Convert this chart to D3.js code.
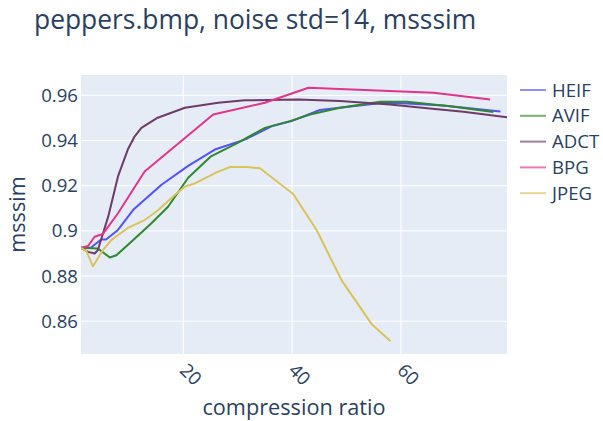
<!DOCTYPE html>
<html>
<head>
<meta charset="utf-8">
<script src="https://cdn.jsdelivr.net/npm/d3@7"></script>
<style>
  body { margin: 0; background: #fff; }
  svg text { font-family: "Open Sans", verdana, arial, sans-serif; fill: #2a3f5f; }
</style>
</head>
<body>
<svg id="chart" width="603" height="421"></svg>
<script>
// codec names and their colours
var codecs = ["HEIF", "AVIF", "ADCT", "BPG", "JPEG"];
var colours = ["#5252fb", "#2f872f", "#6d3b67", "#e0358a", "#d9c35c"];

// compression ratio / msssim
var heifX = [1.2, 3.0, 4.9, 5.8, 8.0, 10.8, 16.0, 20.9, 25.8, 31.3, 36.2, 39.9, 45.1, 56.8, 61.1, 67.8, 78.3];
var heifY = [0.8925, 0.8925, 0.8962, 0.8962, 0.9004, 0.9093, 0.9204, 0.9288, 0.936, 0.9404, 0.9463, 0.9486, 0.9535, 0.9567, 0.9564, 0.9555, 0.9529];

var avifX = [1.2, 4.3, 6.5, 7.7, 10.8, 14.1, 17.2, 20.9, 25.1, 30.0, 35.0, 39.6, 43.3, 48.8, 56.2, 61.1, 69.0, 77.0];
var avifY = [0.8925, 0.8922, 0.8882, 0.8892, 0.896, 0.9033, 0.9107, 0.9235, 0.933, 0.939, 0.9456, 0.9486, 0.9515, 0.9545, 0.9572, 0.9572, 0.9552, 0.9526];

var adctX = [1.2, 2.5, 3.7, 4.3, 6.2, 8.0, 9.8, 11.0, 12.3, 15.3, 20.3, 26.4, 31.3, 41.1, 48.8, 58.0, 65.3, 71.5, 79.5];
var adctY = [0.8925, 0.8907, 0.89, 0.8915, 0.9063, 0.9241, 0.936, 0.9416, 0.9456, 0.9501, 0.9545, 0.9567, 0.9578, 0.9582, 0.9575, 0.956, 0.9542, 0.9527, 0.9503];

var bpgX = [1.2, 2.5, 3.7, 5.2, 8.0, 12.9, 25.5, 35.0, 43.0, 66.0, 76.4];
var bpgY = [0.8925, 0.8933, 0.8974, 0.8986, 0.9078, 0.9263, 0.9515, 0.9567, 0.9634, 0.9612, 0.9582];

var jpegX = [1.2, 2.2, 3.4, 5.2, 6.8, 9.8, 12.9, 15.3, 18.8, 20.3, 22.2, 26.1, 28.6, 31.7, 34.1, 40.2, 44.5, 49.1, 54.6, 58.1];
var jpegY = [0.8925, 0.891, 0.8843, 0.8914, 0.896, 0.9013, 0.9048, 0.909, 0.9167, 0.9196, 0.9211, 0.9259, 0.9283, 0.9283, 0.9277, 0.9163, 0.9004, 0.8781, 0.8588, 0.8511];

var xTicks = [20, 40, 60];
var yTicks = [0.86, 0.88, 0.9, 0.92, 0.94, 0.96];

var allX = [heifX, avifX, adctX, bpgX, jpegX];
var allY = [heifY, avifY, adctY, bpgY, jpegY];

var series = codecs.map(function(name, i) {
    return {
        name: name,
        colour: colours[i],
        points: allX[i].map(function(x, j) { return [x, allY[i][j]]; })
    };
});

var svg = d3.select("#chart");
var plotL = 81, plotR = 507, plotT = 75, plotB = 354;

var xExtent = d3.extent(d3.merge(allX));
var yExtent = d3.extent(d3.merge(allY));
var yPad = (yExtent[1] - yExtent[0]) * 0.05;

var xScale = d3.scaleLinear().domain(xExtent).range([plotL, plotR]);
var yScale = d3.scaleLinear().domain([yExtent[0] - yPad, yExtent[1] + yPad]).range([plotB, plotT]);

// plot background
svg.append("rect")
    .attr("x", plotL).attr("y", plotT)
    .attr("width", plotR - plotL).attr("height", plotB - plotT)
    .style("fill", "#e5ecf6");

// grid
svg.append("g").selectAll("line")
    .data(xTicks).enter().append("line")
    .attr("x1", function(d) { return xScale(d); })
    .attr("x2", function(d) { return xScale(d); })
    .attr("y1", plotT).attr("y2", plotB)
    .style("stroke", "#fff").style("stroke-width", 1);

svg.append("g").selectAll("line")
    .data(yTicks).enter().append("line")
    .attr("x1", plotL).attr("x2", plotR)
    .attr("y1", function(d) { return yScale(d); })
    .attr("y2", function(d) { return yScale(d); })
    .style("stroke", "#fff").style("stroke-width", 1);

// y tick labels
svg.append("g").selectAll("text")
    .data(yTicks).enter().append("text")
    .attr("x", plotL - 3)
    .attr("y", function(d) { return yScale(d); })
    .attr("dy", "0.35em")
    .attr("text-anchor", "end")
    .style("font-size", "18.6px")
    .text(function(d) { return d3.format("")(d); });

// x tick labels, tilted
svg.append("g").selectAll("text")
    .data(xTicks).enter().append("text")
    .attr("transform", function(d) { return "translate(" + xScale(d) + "," + (plotB + 13) + ") rotate(45)"; })
    .attr("dy", "0.35em")
    .attr("text-anchor", "start")
    .style("font-size", "18.6px")
    .text(function(d) { return d; });

// lines
var line = d3.line()
    .x(function(d) { return xScale(d[0]); })
    .y(function(d) { return yScale(d[1]); });

svg.append("clipPath").attr("id", "plotclip")
    .append("rect")
    .attr("x", plotL).attr("y", plotT)
    .attr("width", plotR - plotL).attr("height", plotB - plotT);

svg.append("g")
    .attr("clip-path", "url(#plotclip)")
    .selectAll("path")
    .data(series).enter().append("path")
    .attr("d", function(d) { return line(d.points); })
    .style("fill", "none")
    .style("stroke", function(d) { return d.colour; })
    .style("stroke-width", 2)
    .style("stroke-linejoin", "round");

// legend
var legend = svg.append("g").selectAll("g")
    .data(series).enter().append("g")
    .attr("transform", function(d, i) { return "translate(520," + (90 + i * 25.8) + ")"; });

legend.append("line")
    .attr("x1", 0).attr("x2", 26)
    .style("stroke", function(d) { return d.colour; })
    .style("stroke-width", 2)
    .style("opacity", 0.65);

legend.append("text")
    .attr("x", 32)
    .attr("dy", "0.35em")
    .style("font-size", "18.6px")
    .text(function(d) { return d.name; });

// titles
svg.append("text")
    .attr("x", 34).attr("y", 29)
    .style("font-size", "26.4px")
    .text("peppers.bmp, noise std=14, msssim");

svg.append("text")
    .attr("x", (plotL + plotR) / 2).attr("y", 415)
    .attr("text-anchor", "middle")
    .style("font-size", "21.7px")
    .text("compression ratio");

svg.append("text")
    .attr("transform", "translate(25," + ((plotT + plotB) / 2) + ") rotate(-90)")
    .attr("text-anchor", "middle")
    .style("font-size", "21.7px")
    .text("msssim");
</script>
</body>
</html>
